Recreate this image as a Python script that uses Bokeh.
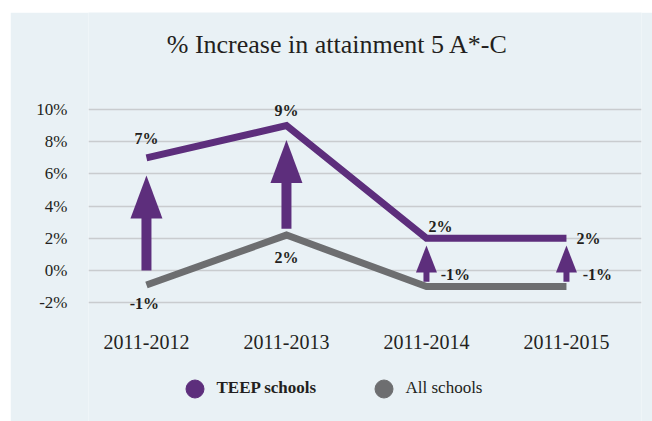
from bokeh.plotting import figure
from bokeh.models import (Range1d, FixedTicker, PrintfTickFormatter, Label,
                          Legend, LegendItem, ColumnDataSource)
from bokeh.embed import file_html
from bokeh.resources import INLINE

# ---- data ----
categories = ["2011-2012", "2011-2013", "2011-2014", "2011-2015"]
teep = [7.0, 9.0, 2.0, 2.0]
all_schools = [-0.9, 2.2, -1.0, -1.0]
arrow_from = [0.0, 2.6, -0.7, -0.7]
arrow_tip = [5.9, 8.1, 1.55, 1.55]
y_ticks = [-2, 0, 2, 4, 6, 8, 10]

# ---- styles ----
PURPLE = "#5D2E7C"
GREY = "#6D6E70"
BG = "#E9F1F5"
TXT = "#231F20"
GRID = "#C9CCCF"
FONT = "Liberation Serif"

W, H = 642, 409
FL, FR = 78, 11
FW, FH = W - FL - FR, H
PX_PER_UNIT_Y = 16.1
ZERO_Y = 258            # pixel row of 0% inside the figure
Y1 = ZERO_Y / PX_PER_UNIT_Y
Y0 = -(FH - ZERO_Y) / PX_PER_UNIT_Y
X0, X1 = -0.414, 3.536
AXIS_AT = -(310 - ZERO_Y) / PX_PER_UNIT_Y
px_y = PX_PER_UNIT_Y
px_x = FW / (X1 - X0)

p = figure(width=W, height=H, output_backend="svg", toolbar_location=None,
           x_range=Range1d(X0, X1), y_range=Range1d(Y0, Y1),
           min_border_left=FL, min_border_right=FR, min_border_top=0,
           min_border_bottom=0)
p.margin = (12, 0, 0, 10)
p.background_fill_color = BG
p.border_fill_color = BG
p.outline_line_color = None

xs = list(range(len(categories)))

# axes
p.yaxis.ticker = FixedTicker(ticks=y_ticks)
p.yaxis.formatter = PrintfTickFormatter(format="%d%%")
p.xaxis.ticker = FixedTicker(ticks=xs)
p.xaxis.major_label_overrides = {i: c for i, c in enumerate(categories)}
p.xaxis.fixed_location = AXIS_AT
for ax in (p.xaxis, p.yaxis):
    ax.axis_line_color = None
    ax.major_tick_line_color = None
    ax.minor_tick_line_color = None
    ax.major_label_text_font = FONT
    ax.major_label_text_color = TXT
p.yaxis.major_label_text_font_size = "17px"
p.yaxis.major_label_standoff = 15
p.xaxis.major_label_text_font_size = "20px"
p.xaxis.major_label_standoff = 6
p.xgrid.grid_line_color = None
p.ygrid.ticker = FixedTicker(ticks=y_ticks)
p.ygrid.grid_line_color = GRID
p.ygrid.grid_line_width = 1.5

# lines
p.line(xs, all_schools, line_width=7, color=GREY, line_join="miter", line_cap="butt")
p.line(xs, teep, line_width=7, color=PURPLE, line_join="miter", line_cap="butt")

# arrows
big = [True, True, False, False]
shaft_w = [10 if b else 6 for b in big]
head_len_px = [43 if b else 27 for b in big]
head_w_px = [32 if b else 21 for b in big]
head_base = [t - hl / px_y for t, hl in zip(arrow_tip, head_len_px)]
for i in xs:
    p.segment(x0=[i], y0=[arrow_from[i]], x1=[i], y1=[head_base[i] + 0.1],
              line_width=shaft_w[i], color=PURPLE, line_cap="butt")
hxs = [[i - head_w_px[i] / 2 / px_x, i, i + head_w_px[i] / 2 / px_x] for i in xs]
hys = [[head_base[i], arrow_tip[i], head_base[i]] for i in xs]
p.patches(hxs, hys, fill_color=PURPLE, line_color=None)

# data labels
teep_dx = [0, 0, 14, 22]
teep_dy = [-19, -15, -12, 0]
all_dx = [-2, 0, 29, 31]
all_dy = [19, 22, -12, -12]
src_t = ColumnDataSource(dict(x=xs, y=teep, t=[f"{round(v)}%" for v in teep],
                              dx=teep_dx, dy=teep_dy))
src_a = ColumnDataSource(dict(x=xs, y=all_schools, t=[f"{round(v)}%" for v in all_schools],
                              dx=all_dx, dy=all_dy))
for s in (src_t, src_a):
    p.text(x="x", y="y", text="t", x_offset="dx", y_offset="dy", source=s,
           text_font={"value": FONT}, text_font_style="bold", text_font_size="16px",
           text_align="center", text_baseline="middle", text_color=TXT)

# title
p.add_layout(Label(x=249, y=H - 32, x_units="screen", y_units="screen",
                   text="% Increase in attainment 5 A*-C", text_font=FONT,
                   text_font_size="26px", text_color=TXT, text_align="center",
                   text_baseline="middle"))

# legend (marker renderers hold a single NaN point so nothing shows in the plot)
nan = float("nan")
r_t = p.scatter(x=[nan], y=[nan], size=18, color=PURPLE)
r_a = p.scatter(x=[nan], y=[nan], size=18, color=GREY)
leg1 = Legend(items=[LegendItem(label="TEEP schools", renderers=[r_t], index=0)],
              location=(83.5, 10.5), label_text_font_style="bold")
leg2 = Legend(items=[LegendItem(label="All schools", renderers=[r_a], index=0)],
              location=(272.5, 10.5))
for lg in (leg1, leg2):
    lg.glyph_width = 45
    lg.glyph_height = 45
    lg.label_standoff = -4
    lg.padding = 0
    lg.margin = 0
    lg.background_fill_alpha = 0
    lg.border_line_color = None
    lg.label_text_font = FONT
    lg.label_text_font_size = "17px"
    lg.label_text_color = TXT
    p.add_layout(lg, "center")

open("out.html", "w").write(file_html(p, INLINE))
